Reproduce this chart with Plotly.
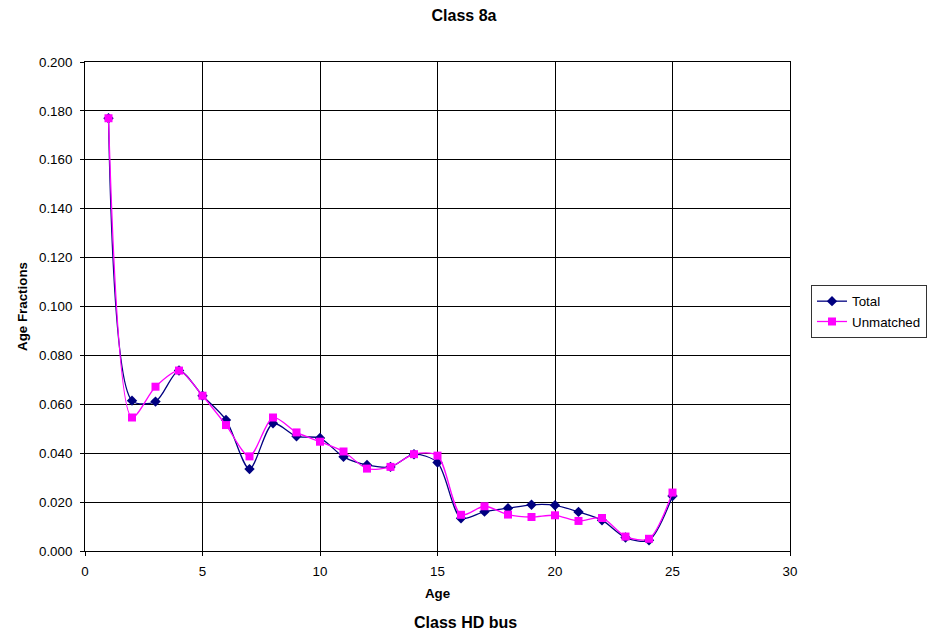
import plotly.graph_objects as go

ages = list(range(1, 26))
total = [0.177, 0.0615, 0.0611, 0.0738, 0.0635, 0.0536, 0.0335, 0.0522, 0.0469, 0.0462,
         0.0385, 0.0352, 0.0344, 0.0396, 0.0362, 0.0134, 0.0161, 0.0175, 0.0189, 0.0187,
         0.0160, 0.0126, 0.0055, 0.0044, 0.0225]
unmatched = [0.177, 0.0546, 0.0672, 0.0738, 0.0635, 0.0515, 0.0387, 0.0546, 0.0485, 0.0447,
             0.0407, 0.0337, 0.0344, 0.0396, 0.0390, 0.0148, 0.0183, 0.0149, 0.0139, 0.0146,
             0.0123, 0.0135, 0.0059, 0.0050, 0.0239]

FONT = "Liberation Sans, Arial, sans-serif"
SMALL = 13.33
BIG = 16
OFF = 8  # page body margin
W, H = 940 - OFF, 636 - OFF
L, R, T, B = 85 - OFF, 790 - OFF, 62 - OFF, 551 - OFF
PW, PH = R - L, B - T


def px(x):
    return (x - OFF - L) / PW


def py(y):
    return (B - (y - OFF)) / PH


fig = go.Figure()
fig.add_trace(go.Scatter(x=ages, y=total, name="Total", mode="lines+markers",
                         line=dict(color="#000080", width=1.3, shape="spline", smoothing=0.8),
                         marker=dict(symbol="diamond", size=8, color="#000080")))
fig.add_trace(go.Scatter(x=ages, y=unmatched, name="Unmatched", mode="lines+markers",
                         line=dict(color="#FF00FF", width=1.3, shape="spline", smoothing=0.8),
                         marker=dict(symbol="square", size=8, color="#FF00FF")))

fig.update_layout(
    width=W, height=H,
    margin=dict(l=L, r=W - R, t=T, b=H - B, autoexpand=False),
    paper_bgcolor="white", plot_bgcolor="white",
    font=dict(family=FONT, size=SMALL, color="black"),
    title=dict(text="<b>Class 8a</b>", x=(464 - OFF) / W, xanchor="center",
               y=1 - (15 - OFF) / H, yanchor="middle", yref="container",
               font=dict(size=BIG, family=FONT, color="black")),
    xaxis=dict(range=[0, 30], tickvals=[0, 5, 10, 15, 20, 25, 30],
               showgrid=True, gridcolor="black", gridwidth=1, automargin=False,
               zeroline=False, showline=True, linecolor="black", linewidth=1,
               mirror=True, ticks="outside", ticklen=4, tickcolor="black",
               ticklabelstandoff=4,
               title=dict(text="<b>Age</b>", font=dict(size=SMALL, family=FONT), standoff=10),
               tickfont=dict(size=SMALL)),
    yaxis=dict(range=[0, 0.2], tickvals=[i * 0.02 for i in range(11)],
               tickformat=".3f", automargin=False,
               showgrid=True, gridcolor="black", gridwidth=1,
               zeroline=False, showline=True, linecolor="black", linewidth=1,
               mirror=True, ticks="outside", ticklen=4, tickcolor="black",
               ticklabelstandoff=5,
               title=dict(text="<b>Age Fractions</b>", font=dict(size=SMALL, family=FONT), standoff=8),
               tickfont=dict(size=SMALL)),
    legend=dict(x=px(811), xanchor="left", y=py(285), yanchor="top",
                bordercolor="#333333", borderwidth=1, bgcolor="white",
                font=dict(size=SMALL, family=FONT), tracegroupgap=0, itemwidth=30),
    showlegend=True,
)

fig.add_annotation(text="<b>Class HD bus</b>", x=px(465), y=py(622),
                   xref="paper", yref="paper", showarrow=False,
                   xanchor="center", yanchor="middle", font=dict(size=BIG, family=FONT))

fig.write_html("out.html")
